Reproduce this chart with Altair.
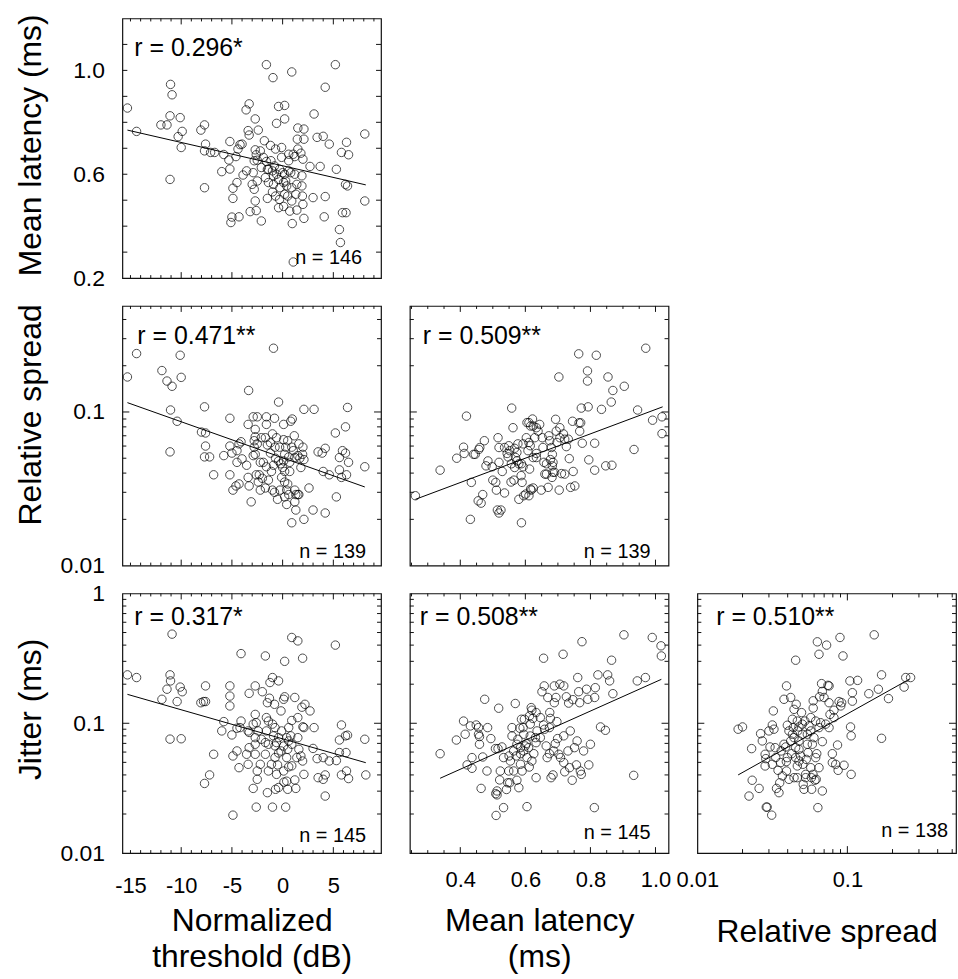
import altair as alt
import pandas as pd

FONT = "Liberation Sans"
W, H = 260, 261

# ---------------- data ----------------
# Panel A: normalized threshold (dB) vs mean latency (ms)
thr_A = [-15.3, -14.4, -11.05, -10.9, -11.1, -12.0, -11.4, -10.1, -10.3, -9.9,
         -10.0, -11.1, -8.06, -7.7, -7.6, -7.7, -7.1, -6.7, -7.7, -6.0,
         -5.8, -5.2, -5.3, -5.2, -4.6, -4.4, -4.2, -4.9, -4.5, -4.9,
         -5.1, -4.3, -3.6, -3.3, -2.7, -3.4, -3.3, -2.4, -2.7, -2.6,
         -2.8, -2.5, -2.9, -3.0, -2.8, -2.5, -3.2, -2.6, -2.1, -1.6,
         -0.95, 0.9, 5.2, 4.2, -0.4, 0.2, 0.2, -0.6, -1.8, -1.2,
         -0.7, -0.1, -1.9, -1.6, -1.5, -1.0, -0.6, -0.3, 0.0, 0.2,
         0.6, 0.8, -0.4, 0.1, 0.4, -1.4, -1.0, -0.7, -1.5, 0.5,
         0.1, 0.7, 1.4, 0.95, 1.05, 1.3, 1.4, 1.9, 1.2, 1.8,
         1.5, 1.45, 1.5, 2.1, 2.1, 2.0, 1.9, 1.95, 2.0, 2.1,
         2.7, 3.1, 3.4, 3.7, 3.0, 4.0, 4.6, 4.2, 4.1, 5.3,
         5.8, 6.3, 6.5, 6.2, 6.4, 5.9, 6.25, 5.6, 5.7, 8.1,
         8.1, -3.9, -3.55, -2.1, -1.7, -0.9, -0.26, 0.3, -0.8, -1.15,
         -2.2, -5.0, 0.9, 0.2, -0.3, 0.9, 0.6, 1.05, -1.4, -0.9,
         -0.4, -4.0, -2.7, 1.2, -0.1, 0.6]
lat_A = [0.855, 0.765, 0.946, 0.906, 0.825, 0.79, 0.79, 0.818, 0.745, 0.765,
         0.703, 0.58, 0.77, 0.79, 0.716, 0.69, 0.684, 0.684, 0.548, 0.61,
         0.676, 0.726, 0.655, 0.62, 0.668, 0.697, 0.714, 0.546, 0.568, 0.507,
         0.414, 0.436, 0.848, 0.871, 0.813, 0.768, 0.751, 0.77, 0.694, 0.675,
         0.652, 0.654, 0.606, 0.561, 0.542, 0.574, 0.456, 0.46, 0.42, 1.022,
         0.972, 0.994, 1.022, 0.935, 0.861, 0.865, 0.813, 0.796, 0.729, 0.711,
         0.697, 0.703, 0.665, 0.649, 0.619, 0.613, 0.6, 0.619, 0.606, 0.6,
         0.613, 0.606, 0.58, 0.568, 0.555, 0.568, 0.532, 0.516, 0.507, 0.516,
         0.476, 0.458, 0.462, 0.41, 0.262, 0.523, 0.561, 0.594, 0.668, 0.681,
         0.697, 0.735, 0.778, 0.774, 0.735, 0.658, 0.555, 0.516, 0.484, 0.43,
         0.63, 0.832, 0.742, 0.63, 0.51, 0.746, 0.716, 0.514, 0.436, 0.619,
         0.684, 0.723, 0.675, 0.561, 0.555, 0.452, 0.452, 0.387, 0.337, 0.755,
         0.497, 0.597, 0.613, 0.626, 0.587, 0.561, 0.548, 0.574, 0.632, 0.652,
         0.69, 0.435, 0.497, 0.523, 0.503, 0.548, 0.677, 0.677, 0.619, 0.594,
         0.471, 0.716, 0.497, 0.6, 0.665, 0.652]

# Panel B: threshold vs relative spread
thr_B = [-15.3, -14.4, -11.9, -11.4, -10.9, -10.1, -10.0, -11.05, -10.4, -11.1,
         -8.0, -7.6, -7.7, -7.6, -7.7, -7.2, -6.8, -5.8, -5.2, -5.2,
         -5.0, -4.5, -4.3, -4.1, -5.2, -4.5, -4.9, -4.6, -4.3, -3.55,
         -3.3, -3.1, -3.35, -3.4, -2.9, -2.5, -2.7, -2.8, -2.8, -2.9,
         -2.5, -2.6, -2.2, -2.3, -2.4, -2.0, -1.6, -1.6, -1.7, -1.5,
         -1.9, -1.6, -1.2, -0.9, -0.8, -0.4, -0.6, -0.75, -0.7, -0.9,
         -1.0, -0.8, -0.5, -0.26, -0.2, 0.1, 0.1, 0.2, 0.3, 0.2,
         0.2, 0.5, 0.4, 0.6, 0.8, 0.95, 1.15, 0.9, 0.6, 0.7,
         0.9, 1.2, 1.3, 1.3, 1.6, 1.8, 1.6, 1.5, 1.7, 2.0,
         1.97, 2.1, 2.1, 2.1, 2.6, 3.1, 3.0, 3.5, 3.9, 4.2,
         4.0, 4.2, 4.6, 5.2, 5.3, 5.6, 5.6, 5.9, 6.2, 6.2,
         5.8, 6.3, 6.5, 6.4, 8.1, -1.4, -1.7, -1.1, -0.1, -0.4,
         0.5, -0.3, 1.05, -2.7, -4.0, -3.4, -2.1, -1.2, 0.1, 0.0,
         0.7, 1.2, 1.5, 0.2, 0.4, -2.2, -1.0, 1.2, -2.7]
spr_B = [0.169, 0.24, 0.186, 0.159, 0.147, 0.234, 0.168, 0.103, 0.087, 0.055,
         0.074, 0.073, 0.108, 0.06, 0.051, 0.051, 0.039, 0.052, 0.091, 0.06,
         0.054, 0.056, 0.062, 0.064, 0.039, 0.047, 0.031, 0.033, 0.034, 0.045,
         0.033, 0.026, 0.138, 0.083, 0.093, 0.093, 0.077, 0.065, 0.059, 0.052,
         0.062, 0.039, 0.047, 0.039, 0.035, 0.037, 0.093, 0.083, 0.068, 0.061,
         0.047, 0.044, 0.054, 0.26, 0.091, 0.116, 0.068, 0.059, 0.05, 0.045,
         0.031, 0.03, 0.027, 0.031, 0.046, 0.083, 0.066, 0.053, 0.059, 0.041,
         0.035, 0.034, 0.031, 0.029, 0.087, 0.09, 0.07, 0.059, 0.051, 0.047,
         0.019, 0.026, 0.023, 0.029, 0.029, 0.0435, 0.062, 0.052, 0.05, 0.059,
         0.053, 0.104, 0.049, 0.02, 0.032, 0.104, 0.023, 0.055, 0.054, 0.058,
         0.041, 0.022, 0.039, 0.073, 0.028, 0.0505, 0.042, 0.056, 0.054, 0.08,
         0.0375, 0.039, 0.047, 0.107, 0.044, 0.036, 0.032, 0.041, 0.0375, 0.048,
         0.065, 0.059, 0.056, 0.053, 0.0495, 0.0375, 0.068, 0.063, 0.048, 0.0435,
         0.041, 0.031, 0.029, 0.028, 0.025, 0.031, 0.072, 0.0505, 0.069]

# Panel C: mean latency vs relative spread
lat_C = [0.262, 0.338, 0.389, 0.41, 0.412, 0.419, 0.434, 0.441, 0.446, 0.457,
         0.46, 0.474, 0.431, 0.455, 0.464, 0.469, 0.485, 0.498, 0.509, 0.511,
         0.516, 0.519, 0.519, 0.514, 0.519, 0.525, 0.529, 0.536, 0.544, 0.547,
         0.549, 0.552, 0.558, 0.562, 0.556, 0.565, 0.567, 0.574, 0.577, 0.57,
         0.574, 0.58, 0.588, 0.593, 0.58, 0.587, 0.59, 0.588, 0.595, 0.601,
         0.605, 0.611, 0.622, 0.616, 0.624, 0.611, 0.615, 0.608, 0.613, 0.618,
         0.624, 0.611, 0.629, 0.634, 0.634, 0.634, 0.639, 0.652, 0.657, 0.66,
         0.665, 0.67, 0.672, 0.675, 0.68, 0.683, 0.677, 0.685, 0.683, 0.682,
         0.69, 0.693, 0.695, 0.697, 0.703, 0.706, 0.704, 0.711, 0.717, 0.721,
         0.726, 0.721, 0.735, 0.739, 0.745, 0.747, 0.752, 0.764, 0.765, 0.77,
         0.767, 0.772, 0.775, 0.791, 0.791, 0.793, 0.795, 0.813, 0.813, 0.818,
         0.834, 0.854, 0.847, 0.866, 0.864, 0.869, 0.904, 0.934, 0.945, 0.97,
         0.991, 1.02, 1.02, 0.557, 0.603, 0.644, 0.654, 0.536, 0.567, 0.593,
         0.624, 0.665, 0.649, 0.685, 0.5, 0.479, 0.732, 0.706, 0.616]
spr_C = [0.0285, 0.0418, 0.05, 0.059, 0.0537, 0.094, 0.0348, 0.053, 0.053, 0.057,
         0.0587, 0.065, 0.02, 0.0264, 0.0255, 0.029, 0.048, 0.044, 0.0348, 0.031,
         0.068, 0.0587, 0.047, 0.023, 0.022, 0.023, 0.041, 0.0297, 0.0537, 0.051,
         0.0603, 0.056, 0.106, 0.079, 0.035, 0.036, 0.058, 0.0545, 0.062, 0.0505,
         0.048, 0.046, 0.046, 0.044, 0.027, 0.0385, 0.0348, 0.019, 0.0285, 0.0292,
         0.0853, 0.0853, 0.09, 0.081, 0.081, 0.0633, 0.0603, 0.056, 0.0425, 0.031,
         0.032, 0.0285, 0.068, 0.079, 0.0537, 0.0505, 0.075, 0.068, 0.047, 0.0394,
         0.0394, 0.0323, 0.07, 0.065, 0.0587, 0.053, 0.049, 0.047, 0.0446, 0.0375,
         0.0405, 0.0896, 0.075, 0.0633, 0.169, 0.068, 0.031, 0.0397, 0.072, 0.0665,
         0.0595, 0.0394, 0.0497, 0.0323, 0.087, 0.041, 0.033, 0.239, 0.085, 0.085,
         0.075, 0.106, 0.0626, 0.185, 0.159, 0.108, 0.0488, 0.0626, 0.0418, 0.234,
         0.104, 0.169, 0.0446, 0.045, 0.116, 0.138, 0.147, 0.057, 0.103, 0.26,
         0.0884, 0.093, 0.0723, 0.046, 0.068, 0.083, 0.0587, 0.0587, 0.0435, 0.062,
         0.0505, 0.046, 0.031, 0.0405, 0.036, 0.0446, 0.0665, 0.079, 0.0315]

# Panel D: threshold vs jitter
thr_D = [-15.3, -14.4, -10.9, -11.1, -11.05, -11.4, -11.9, -10.1, -9.9, -10.4,
         -11.1, -10.0, -8.06, -7.8, -7.6, -7.6, -7.7, -7.2, -6.8, -6.0,
         -5.8, -5.2, -5.2, -5.2, -5.0, -4.9, -4.5, -4.5, -4.2, -4.1,
         -4.1, -4.3, -4.9, -3.3, -3.4, -3.3, -3.3, -3.4, -2.9, -2.7,
         -2.7, -2.6, -2.7, -2.7, -2.5, -2.5, -2.9, -2.6, -2.2, -2.0,
         -1.7, -1.6, -1.5, -1.3, -1.4, -1.6, -1.7, -1.4, -1.5, -1.0,
         -1.25, -1.0, -0.8, -0.4, -1.0, -0.9, -0.75, -0.6, -0.4, -0.5,
         -0.7, -0.4, -0.16, 0.1, 0.2, 0.2, 0.3, 0.13, 0.4, 0.5,
         0.5, 0.4, 0.6, 0.8, 0.9, 0.9, 1.2, 1.5, 1.2, 1.3,
         1.5, 1.97, 1.9, 2.2, 2.0, 2.1, 1.6, 1.8, 1.97, 2.1,
         2.7, 3.1, 3.0, 3.4, 3.5, 4.0, 4.2, 4.2, 4.0, 4.6,
         5.2, 5.3, 5.6, 5.8, 6.2, 6.4, 5.6, 6.25, 5.8, 6.3,
         6.5, 8.1, 8.2, -0.75, -0.16, 0.1, -0.4, 0.6, 0.9, 0.4,
         -2.1, -2.4, -1.7, -1.1, 0.1, 0.6, 1.4, -2.7, -3.55, -0.75,
         -0.1, -1.4, 0.9, 1.5, -0.6]
jit_D = [0.236, 0.225, 0.486, 0.236, 0.212, 0.183, 0.153, 0.19, 0.175, 0.147,
         0.0755, 0.076, 0.144, 0.147, 0.147, 0.194, 0.0344, 0.04, 0.0577, 0.0873,
         0.103, 0.194, 0.162, 0.136, 0.0813, 0.056, 0.0612, 0.0916, 0.0926, 0.104,
         0.344, 0.0455, 0.0196, 0.17, 0.0873, 0.085, 0.0649, 0.0483, 0.0985, 0.194,
         0.117, 0.101, 0.0689, 0.0577, 0.0429, 0.037, 0.0315, 0.0226, 0.0483, 0.175,
         0.33, 0.1106, 0.144, 0.156, 0.104, 0.0873, 0.071, 0.0429, 0.0292, 0.0226,
         0.206, 0.225, 0.14, 0.212, 0.0985, 0.08, 0.067, 0.071, 0.059, 0.0478,
         0.031, 0.032, 0.1245, 0.153, 0.16, 0.30, 0.0226, 0.0352, 0.0358, 0.031,
         0.063, 0.0544, 0.0462, 0.08, 0.458, 0.105, 0.158, 0.1106, 0.0366, 0.0315,
         0.431, 0.317, 0.133, 0.14, 0.094, 0.0926, 0.063, 0.056, 0.0512, 0.0404,
         0.1245, 0.0926, 0.064, 0.0534, 0.0381, 0.037, 0.04, 0.0275, 0.0544, 0.0512,
         0.40, 0.0516, 0.0743, 0.097, 0.08, 0.081, 0.0595, 0.0595, 0.04, 0.0429,
         0.0375, 0.0753, 0.04, 0.0544, 0.0612, 0.0668, 0.0775, 0.0926, 0.0689, 0.0775,
         0.0753, 0.0873, 0.0577, 0.0483, 0.0429, 0.0731, 0.0544, 0.0775, 0.0577, 0.0926,
         0.0873, 0.0689, 0.047, 0.0775, 0.0404]

# Panel E: mean latency vs jitter
lat_E = [0.338, 0.388, 0.41, 0.415, 0.421, 0.436, 0.436, 0.431, 0.449, 0.456,
         0.459, 0.459, 0.464, 0.469, 0.475, 0.484, 0.494, 0.508, 0.516, 0.518,
         0.509, 0.513, 0.513, 0.521, 0.533, 0.51, 0.528, 0.542, 0.546, 0.552,
         0.55, 0.554, 0.559, 0.559, 0.564, 0.569, 0.572, 0.574, 0.577, 0.58,
         0.583, 0.585, 0.585, 0.59, 0.588, 0.593, 0.595, 0.597, 0.6, 0.603,
         0.605, 0.61, 0.612, 0.613, 0.618, 0.62, 0.623, 0.615, 0.62, 0.633,
         0.633, 0.633, 0.651, 0.656, 0.658, 0.656, 0.659, 0.664, 0.669, 0.674,
         0.674, 0.675, 0.677, 0.679, 0.685, 0.689, 0.689, 0.692, 0.694, 0.697,
         0.699, 0.703, 0.706, 0.716, 0.718, 0.718, 0.721, 0.726, 0.731, 0.733,
         0.736, 0.744, 0.746, 0.751, 0.757, 0.761, 0.764, 0.767, 0.769, 0.772,
         0.774, 0.788, 0.792, 0.795, 0.812, 0.815, 0.813, 0.823, 0.831, 0.846,
         0.853, 0.859, 0.865, 0.869, 0.903, 0.933, 0.944, 0.969, 0.99, 1.017,
         1.018, 0.574, 0.605, 0.636, 0.646, 0.585, 0.564, 0.595, 0.626, 0.687,
         0.533, 0.549, 0.482, 0.708, 0.646, 0.615, 0.738, 0.667, 0.456, 0.523,
         0.759, 0.779, 0.631, 0.718, 0.8]
jit_E = [0.0583, 0.0743, 0.104, 0.0823, 0.0478, 0.0544, 0.045, 0.0954, 0.097, 0.0823,
         0.079, 0.0689, 0.0315, 0.055, 0.153, 0.0926, 0.0762, 0.0638, 0.0638, 0.1306,
         0.0287, 0.0301, 0.0281, 0.0366, 0.0224, 0.0195, 0.0657, 0.0309, 0.0348, 0.0348,
         0.056, 0.0512, 0.0926, 0.0798, 0.0612, 0.142, 0.056, 0.0364, 0.0753, 0.0319,
         0.0916, 0.0583, 0.0483, 0.0429, 0.1074, 0.0926, 0.0823, 0.1074, 0.0669, 0.0697,
         0.0228, 0.0649, 0.046, 0.114, 0.132, 0.126, 0.109, 0.0798, 0.0512, 0.121,
         0.0709, 0.0381, 0.175, 0.317, 0.194, 0.097, 0.0899, 0.0669, 0.158, 0.0926,
         0.0583, 0.121, 0.109, 0.0381, 0.04, 0.194, 0.144, 0.0697, 0.158, 0.103,
         0.0762, 0.0577, 0.2, 0.34, 0.194, 0.0498, 0.0423, 0.16, 0.0612, 0.143,
         0.0455, 0.0364, 0.152, 0.0649, 0.0478, 0.225, 0.175, 0.144, 0.0429, 0.0404,
         0.425, 0.183, 0.153, 0.0478, 0.0224, 0.188, 0.158, 0.236, 0.0937, 0.0883,
         0.236, 0.212, 0.306, 0.169, 0.48, 0.0397, 0.212, 0.225, 0.458, 0.395,
         0.33, 0.0689, 0.0544, 0.0873, 0.0775, 0.0649, 0.0429, 0.0612, 0.0583, 0.0612,
         0.0544, 0.0429, 0.0429, 0.0544, 0.1106, 0.0985, 0.0873, 0.0544, 0.0926, 0.0429,
         0.0731, 0.0612, 0.0775, 0.08, 0.0689]

# Panel F: relative spread vs jitter
spr_F = [0.0187, 0.020, 0.023, 0.0221, 0.0232, 0.0258, 0.0264, 0.0271, 0.0283, 0.0283,
         0.0286, 0.0288, 0.0292, 0.0313, 0.0305, 0.0316, 0.0321, 0.0324, 0.033, 0.0337,
         0.0345, 0.035, 0.0354, 0.0362, 0.0369, 0.0378, 0.0393, 0.0388, 0.0392, 0.0393,
         0.0398, 0.0408, 0.0419, 0.0425, 0.0436, 0.0441, 0.0452, 0.0441, 0.0452, 0.0452,
         0.0456, 0.0464, 0.0464, 0.0467, 0.0476, 0.0476, 0.0495, 0.0501, 0.0505, 0.0508,
         0.0514, 0.0521, 0.0527, 0.0532, 0.0541, 0.0546, 0.0555, 0.057, 0.0576, 0.0578,
         0.059, 0.0592, 0.0592, 0.0599, 0.0608, 0.0615, 0.062, 0.0625, 0.0631, 0.0636,
         0.0647, 0.0653, 0.0663, 0.0673, 0.0681, 0.0681, 0.0681, 0.0699, 0.0727, 0.0742,
         0.0755, 0.0755, 0.0766, 0.0794, 0.0794, 0.0814, 0.0836, 0.086, 0.0868, 0.088,
         0.0893, 0.0903, 0.0916, 0.0935, 0.095, 0.104, 0.105, 0.106, 0.106, 0.108,
         0.108, 0.117, 0.139, 0.151, 0.161, 0.169, 0.169, 0.188, 0.239, 0.245,
         0.264, 0.043, 0.0476, 0.0541, 0.057, 0.0398, 0.0333, 0.0359, 0.0419, 0.0488,
         0.0647, 0.0717, 0.0501, 0.0441, 0.057, 0.03, 0.0316, 0.0408, 0.0584, 0.0755,
         0.0615, 0.0527, 0.0378, 0.0476, 0.043, 0.0464, 0.0647, 0.0814]
jit_F = [0.090, 0.0937, 0.0638, 0.0275, 0.0364, 0.0315, 0.0832, 0.0731, 0.0577, 0.0469,
         0.0534, 0.0226, 0.0226, 0.0196, 0.0657, 0.097, 0.1245, 0.09, 0.0649, 0.0315,
         0.0434, 0.0292, 0.0348, 0.0612, 0.0393, 0.153, 0.194, 0.0657, 0.0507, 0.0429,
         0.0966, 0.037, 0.158, 0.0583, 0.0926, 0.128, 0.306, 0.0775, 0.0649, 0.0544,
         0.14, 0.0469, 0.0381, 0.0873, 0.0937, 0.063, 0.1208, 0.0823, 0.0483, 0.0338,
         0.031, 0.104, 0.0404, 0.0527, 0.0823, 0.0594, 0.0954, 0.0873, 0.0381, 0.031,
         0.0404, 0.149, 0.131, 0.0775, 0.0364, 0.104, 0.037, 0.0583, 0.424, 0.0224,
         0.34, 0.16, 0.101, 0.202, 0.176, 0.0301, 0.0722, 0.158, 0.40, 0.196,
         0.194, 0.144, 0.117, 0.0583, 0.0498, 0.126, 0.0483, 0.068, 0.0434, 0.147,
         0.458, 0.136, 0.144, 0.33, 0.0475, 0.212, 0.0937, 0.08, 0.0404, 0.172,
         0.148, 0.214, 0.169, 0.48, 0.183, 0.236, 0.0766, 0.155, 0.19, 0.225,
         0.225, 0.1074, 0.0731, 0.0689, 0.1106, 0.0544, 0.0544, 0.0498, 0.0731, 0.056,
         0.0926, 0.0985, 0.0985, 0.0381, 0.0455, 0.0873, 0.0483, 0.0873, 0.0689, 0.0926,
         0.0544, 0.0381, 0.0689, 0.0512, 0.0823, 0.104, 0.0455, 0.1106]

# regression line end points
fit_A_x, fit_A_y = [-15.3, 8.2], [0.77, 0.559]
fit_B_x, fit_B_y = [-15.3, 8.1], [0.115, 0.0325]
fit_C_x, fit_C_y = [0.262, 1.022], [0.027, 0.108]
fit_D_x, fit_D_y = [-15.3, 8.2], [0.167, 0.0497]
fit_E_x, fit_E_y = [0.338, 1.018], [0.0377, 0.218]
fit_F_x, fit_F_y = [0.0187, 0.258], [0.040, 0.218]

r_labels = ["r = 0.296*", "r = 0.471**", "r = 0.509**",
            "r = 0.317*", "r = 0.508**", "r = 0.510**"]
n_labels = ["n = 146", "n = 139", "n = 139", "n = 145", "n = 145", "n = 138"]

# axis tick values
thr_major = [-15, -10, -5, 0, 5]
thr_minor = [-15, -14, -13, -12, -11, -9, -8, -7, -6, -4, -3, -2, -1, 1, 2, 3, 4, 6, 7, 8, 9]
latx_major = [0.4, 0.6, 0.8, 1.0]
latx_minor = [0.25, 0.3, 0.35, 0.45, 0.5, 0.55, 0.65, 0.7, 0.75, 0.85, 0.9, 0.95]
laty_major = [0.2, 0.6, 1.0]
laty_ticks = [0.3, 0.4, 0.5, 0.6, 0.7, 0.8, 0.9, 1.0, 1.1]
log_major = [0.01, 0.1, 1]
log_minor = [0.02, 0.03, 0.04, 0.05, 0.06, 0.07, 0.08, 0.09,
             0.2, 0.3, 0.4, 0.5, 0.6, 0.7, 0.8, 0.9]

AX = {
    "thr": dict(type="linear", domain=[-15.8, 9.7], labels=thr_major,
                big=[-10, -5, 0, 5], small=thr_minor, bs=6, ss=3,
                expr="'' + datum.value",
                title=["Normalized", "threshold (dB)"], lpad=40, tpos=78),
    "latx": dict(type="linear", domain=[0.245, 1.04], labels=latx_major,
                 big=latx_major, small=latx_minor, bs=6, ss=3,
                 expr="format(datum.value, '.1f')",
                 title=["Mean latency", "(ms)"], lpad=34, tpos=78),
    "sprx": dict(type="log", domain=[0.01, 0.53], labels=[0.01, 0.1],
                 big=[0.1], small=[v for v in log_minor if v <= 0.5], bs=7, ss=4,
                 expr="'' + datum.value",
                 title="Relative spread", lpad=34, tpos=89),
    "laty": dict(type="linear", domain=[0.2, 1.2], labels=laty_major,
                 big=laty_ticks, small=[], bs=5, ss=5,
                 expr="format(datum.value, '.1f')",
                 title="Mean latency (ms)", tpos=127),
    "spry": dict(type="log", domain=[0.01, 0.49], labels=[0.01, 0.1],
                 big=[0.1], small=[v for v in log_minor if v <= 0.4], bs=7, ss=4,
                 expr="'' + datum.value",
                 title="Relative spread", tpos=109),
    "jity": dict(type="log", domain=[0.01, 1], labels=log_major,
                 big=[0.1], small=log_minor, bs=7, ss=4,
                 expr="'' + datum.value",
                 title="Jitter (ms)", tpos=116),
}

TICK_COLOR = "#111111"


def make_scale(a):
    if a["type"] == "log":
        return alt.Scale(type="log", domain=a["domain"], nice=False)
    return alt.Scale(type="linear", domain=a["domain"], nice=False, zero=False)


def x_ticks(values, xs, size):
    """Inward tick rules at the bottom and top edges for x tick values."""
    if not values:
        return []
    src = pd.DataFrame({"v": values})
    out = []
    for y0, y1 in ((H, H - size), (0, size)):
        out.append(
            alt.Chart(src).mark_rule(color=TICK_COLOR, strokeWidth=1).encode(
                x=alt.X("v:Q", scale=xs, axis=None),
                y=alt.value(y0), y2=alt.value(y1))
        )
    return out


def y_ticks(values, ys, size):
    """Inward tick rules at the left and right edges for y tick values."""
    if not values:
        return []
    src = pd.DataFrame({"v": values})
    out = []
    for x0, x1 in ((0, size), (W, W - size)):
        out.append(
            alt.Chart(src).mark_rule(color=TICK_COLOR, strokeWidth=1).encode(
                y=alt.Y("v:Q", scale=ys, axis=None),
                x=alt.value(x0), x2=alt.value(x1))
        )
    return out


def panel(xk, yk, px, py, lx, ly, r_txt, n_txt, row, col, rx, ry, nx, ny):
    X, Y = AX[xk], AX[yk]
    xs, ys = make_scale(X), make_scale(Y)

    if row == 2:
        xaxis = alt.Axis(
            orient="bottom", values=X["labels"], ticks=False, domain=False, grid=False,
            labelExpr=X["expr"], labelFont=FONT, labelFontSize=22, labelColor="black",
            labelPadding=X["lpad"], labelBaseline="alphabetic", labelAlign="center",
            labelFlush=False, labelOverlap=False,
            title=X["title"], titleFont=FONT, titleFontSize=32, titleFontWeight="normal",
            titleColor="black", titleAngle=0, titleAlign="center",
            titleBaseline="alphabetic", titleLineHeight=36,
            titleX=W / 2, titleY=X["tpos"])
    else:
        xaxis = None
    if col == 0:
        yaxis = alt.Axis(
            orient="left", values=Y["labels"], ticks=False, domain=False, grid=False,
            labelExpr=Y["expr"], labelFont=FONT, labelFontSize=23, labelColor="black",
            labelPadding=18, labelAlign="right", labelBaseline="middle",
            labelFlush=False, labelOverlap=False,
            title=Y["title"], titleFont=FONT, titleFontSize=32, titleFontWeight="normal",
            titleColor="black", titleAngle=270, titleAlign="center",
            titleBaseline="alphabetic", titleX=-82, titleY=Y["tpos"])
    else:
        yaxis = None

    pts = alt.Chart(pd.DataFrame({"x": px, "y": py})).mark_point(
        shape="circle", filled=False, size=72, strokeWidth=1, color="black"
    ).encode(
        x=alt.X("x:Q", scale=xs, axis=xaxis),
        y=alt.Y("y:Q", scale=ys, axis=yaxis),
    )
    fit = alt.Chart(pd.DataFrame({"x": lx, "y": ly})).mark_line(
        color="black", strokeWidth=1
    ).encode(
        x=alt.X("x:Q", scale=xs, axis=None),
        y=alt.Y("y:Q", scale=ys, axis=None),
    )
    tick_layers = (x_ticks(X["big"], xs, X["bs"]) + x_ticks(X["small"], xs, X["ss"])
                   + y_ticks(Y["big"], ys, Y["bs"]) + y_ticks(Y["small"], ys, Y["ss"]))

    rt = alt.Chart(pd.DataFrame({"t": [r_txt]})).mark_text(
        align="left", baseline="alphabetic", font=FONT, fontSize=25, color="black"
    ).encode(text="t:N", x=alt.value(rx), y=alt.value(ry))
    nt = alt.Chart(pd.DataFrame({"t": [n_txt]})).mark_text(
        align="right", baseline="alphabetic", font=FONT, fontSize=20, color="black"
    ).encode(text="t:N", x=alt.value(W - nx), y=alt.value(H - ny))

    return alt.layer(pts, fit, *tick_layers, rt, nt).resolve_axis(
        x="independent", y="independent"
    ).properties(width=W, height=H)


def blank():
    return alt.Chart(pd.DataFrame({"t": [""]})).mark_text().encode(
        text="t:N"
    ).properties(width=W, height=H, view=alt.ViewBackground(stroke="transparent"))


A = panel("thr", "laty", thr_A, lat_A, fit_A_x, fit_A_y, r_labels[0], n_labels[0], 0, 0, 12, 38, 19, 14)
B = panel("thr", "spry", thr_B, spr_B, fit_B_x, fit_B_y, r_labels[1], n_labels[1], 1, 0, 15, 38, 15, 8)
C = panel("latx", "spry", lat_C, spr_C, fit_C_x, fit_C_y, r_labels[2], n_labels[2], 1, 1, 13, 38, 18, 8)
D = panel("thr", "jity", thr_D, jit_D, fit_D_x, fit_D_y, r_labels[3], n_labels[3], 2, 0, 12, 32, 15, 11)
E = panel("latx", "jity", lat_E, jit_E, fit_E_x, fit_E_y, r_labels[4], n_labels[4], 2, 1, 10, 32, 18, 14)
F = panel("sprx", "jity", spr_F, jit_F, fit_F_x, fit_F_y, r_labels[5], n_labels[5], 2, 2, 19, 32, 8, 16)

chart = alt.concat(
    A, blank(), blank(),
    B, C, blank(),
    D, E, F,
    columns=3, spacing={"row": 28, "column": 29}, bounds="flush",
).properties(
    padding={"left": 14, "top": 10, "right": 0, "bottom": 0}
).configure_view(
    stroke="#111111", strokeWidth=1.2
).configure_axis(
    labelFont=FONT, titleFont=FONT
)

chart.save("out.html", embed_options={"renderer": "svg", "actions": False})
